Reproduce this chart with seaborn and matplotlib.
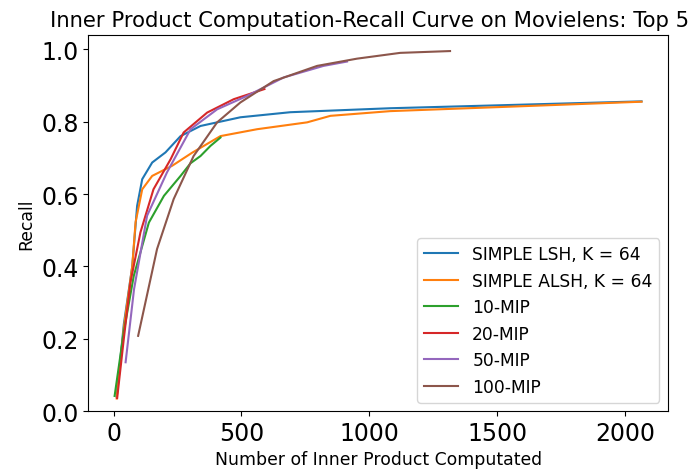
import numpy as np
import pandas as pd
import seaborn as sns
from matplotlib import pyplot as plt

# Series
labels = ['SIMPLE LSH, K = 64', 'SIMPLE ALSH, K = 64', '10-MIP', '20-MIP', '50-MIP', '100-MIP']

lsh_x = [12, 40, 73, 92, 112, 151, 203, 262, 340, 496, 691, 1082, 1500, 2065]
lsh_y = [0.04, 0.24, 0.40, 0.567, 0.641, 0.687, 0.715, 0.76, 0.788, 0.812, 0.826, 0.837, 0.845, 0.856]

alsh_x = [12, 40, 73, 86, 112, 151, 229, 307, 418, 561, 757, 848, 1082, 1500, 2065]
alsh_y = [0.035, 0.23, 0.40, 0.522, 0.613, 0.65, 0.678, 0.714, 0.76, 0.779, 0.798, 0.816, 0.829, 0.84, 0.855]

mip10_x = [4, 40, 79, 138, 197, 262, 301, 340, 379, 418]
mip10_y = [0.042, 0.22, 0.374, 0.521, 0.595, 0.65, 0.685, 0.705, 0.733, 0.756]

mip20_x = [14, 40, 66, 105, 156, 223, 274, 366, 470, 590]
mip20_y = [0.036, 0.2, 0.356, 0.494, 0.613, 0.696, 0.77, 0.825, 0.862, 0.89]

mip50_x = [47, 80, 131, 209, 301, 405, 522, 665, 821, 913]
mip50_y = [0.135, 0.337, 0.54, 0.66, 0.779, 0.834, 0.871, 0.922, 0.954, 0.966]

mip100_x = [96, 170, 235, 313, 405, 496, 626, 796, 952, 1121, 1316]
mip100_y = [0.208, 0.448, 0.586, 0.705, 0.798, 0.853, 0.912, 0.954, 0.974, 0.99, 0.995]

xs = [lsh_x, alsh_x, mip10_x, mip20_x, mip50_x, mip100_x]
ys = [lsh_y, alsh_y, mip10_y, mip20_y, mip50_y, mip100_y]

df = pd.concat([pd.DataFrame({'x': x, 'recall': y, 'method': lab})
                for x, y, lab in zip(xs, ys, labels)], ignore_index=True)

fig = plt.figure(figsize=(6.95, 4.77), dpi=100)
ax = fig.add_axes([0.127, 0.136, 0.834, 0.789])
sns.lineplot(data=df, x='x', y='recall', hue='method', hue_order=labels,
             palette='tab10', linewidth=1.5, ax=ax, estimator=None)

ax.set_ylim(0, 1.04)
# the reference shows the title up to "Top 5" at the right edge
ax.set_title('Inner Product Computation-Recall Curve on Movielens: Top 5', fontsize=15.2, x=0.485)
ax.set_xlabel('Number of Inner Product Computated', fontsize=12.4)
ax.set_ylabel('Recall', fontsize=12.4)
ax.tick_params(labelsize=17)

handles, legend_labels = ax.get_legend_handles_labels()
ax.legend(handles, legend_labels, loc='lower right', fontsize=12.3)

plt.savefig('out.png', dpi=100)
